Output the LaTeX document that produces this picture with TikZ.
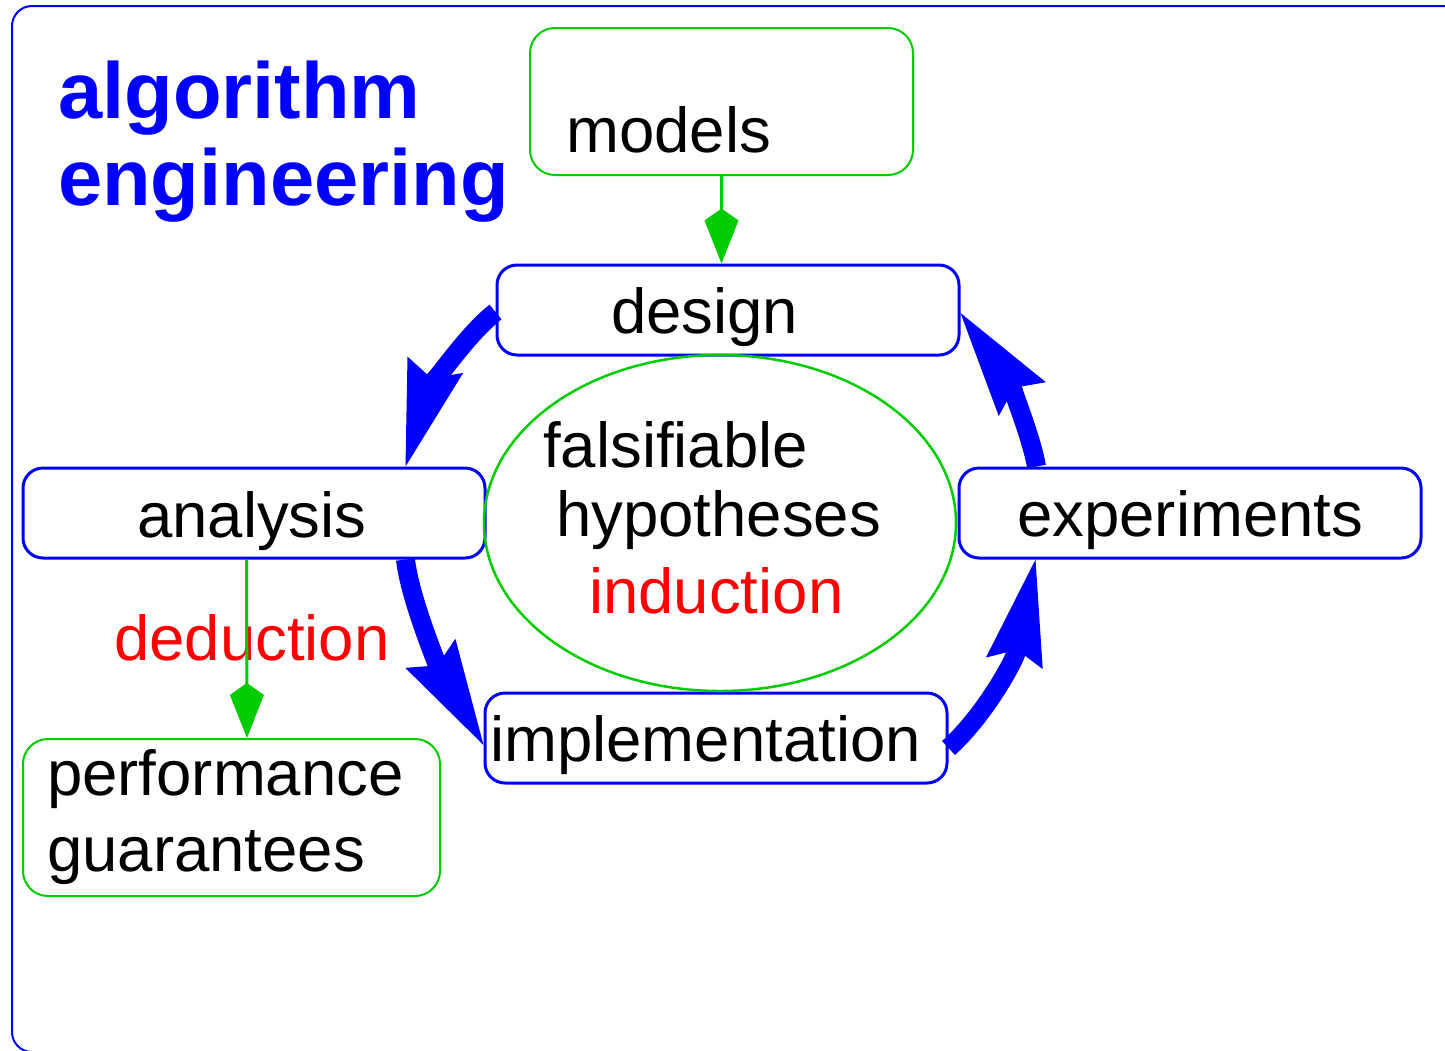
\documentclass[tikz,border=0pt]{standalone}
\usepackage{fontspec}
\setmainfont{Liberation Sans}
\usetikzlibrary{arrows.meta}
\definecolor{ggreen}{RGB}{0,204,0}
\definecolor{bblue}{RGB}{0,0,255}
\definecolor{rred}{RGB}{255,0,0}
\begin{document}
\begin{tikzpicture}[x=1pt,y=-1pt,
  bluebox/.style={draw=bblue,line width=3pt,rounded corners=20pt,inner sep=0pt},
  greenbox/.style={draw=ggreen,line width=2pt,rounded corners=25pt,inner sep=0pt},
  lbl/.style={anchor=base west,inner sep=0pt,font=\fontsize{63.5}{76}\selectfont},
  title/.style={anchor=base west,inner sep=0pt,text=bblue,font=\fontsize{79.5}{94}\selectfont\bfseries},
  cyc/.style={draw=bblue,line width=19pt,
    -{Stealth[length=106pt,width=58pt,inset=14pt,line width=0pt]}},
  gcon/.style={draw=ggreen,line width=3pt,
    -{Kite[length=55pt,width=34pt,inset=12pt,line width=0pt]}}]
\useasboundingbox (0,0) rectangle (1445,1050);
% frame
\draw[bblue,line width=2pt,rounded corners=20pt] (1470,6) -- (12,6) -- (12,1052) -- (60,1052);

% boxes
\path (530,28) rectangle (913,175) node[pos=0.5,greenbox,minimum width=383pt,minimum height=147pt] (models) {};
\path (497,265) rectangle (959,355) node[pos=0.5,bluebox,minimum width=462pt,minimum height=90pt] (design) {};
\path (23,468) rectangle (485,558) node[pos=0.5,bluebox,minimum width=462pt,minimum height=90pt] (analysis) {};
\path (959,468) rectangle (1421,558) node[pos=0.5,bluebox,minimum width=462pt,minimum height=90pt] (experiments) {};
\path (485,693) rectangle (947,783) node[pos=0.5,bluebox,minimum width=462pt,minimum height=90pt] (implementation) {};
\path (23,739) rectangle (440,896) node[pos=0.5,greenbox,minimum width=417pt,minimum height=157pt] (perf) {};
\draw[ggreen,line width=2.5pt] (720,523) ellipse [x radius=236, y radius=168];
\node[inner sep=0pt] (hyp) at (720,523) {};

% texts
\node[title] (t1) at (58,118) {algorithm};
\node[title] (t2) at (58,205) {engineering};
\node[lbl] (tmodels) at (566,152) {models};
\node[lbl] (tdesign) at (611,333) {design};
\node[lbl] (tanalysis) at (137,537) {analysis};
\node[lbl] (texp) at (1017,536) {experiments};
\node[lbl] (timpl) at (490,761) {implementation};
\node[lbl] (tfals) at (543,467) {falsifiable};
\node[lbl] (thyp) at (556,536) {hypotheses};
\node[lbl,text=rred] (tind) at (589,613) {induction};
\node[lbl,text=rred] (tded) at (114,660) {deduction};
\node[lbl] (tperf) at (47,795) {performance};
\node[lbl] (tguar) at (47,871) {guarantees};

% green connectors
\draw[gcon] (models.south) -- (design.north -| models.south);
\draw[gcon] ([xshift=225pt]analysis.south west) -- ([xshift=225pt]perf.north west);

% cycle arrows
\draw[cyc] ([yshift=-2pt]design.west) .. controls (460,340) and (425,400) .. ([xshift=384pt]analysis.north west);
\draw[cyc] ([xshift=384pt]analysis.south west) .. controls (410,600) and (440,670) .. ([yshift=-7pt]implementation.west);
\draw[cyc] ([yshift=-10pt]implementation.east) .. controls (985,715) and (1015,660) .. ([xshift=78pt]experiments.south west);
\draw[cyc] ([xshift=79pt]experiments.north west) .. controls (1030,430) and (1005,375) .. ([yshift=-3pt]design.east);
\end{tikzpicture}
\end{document}
